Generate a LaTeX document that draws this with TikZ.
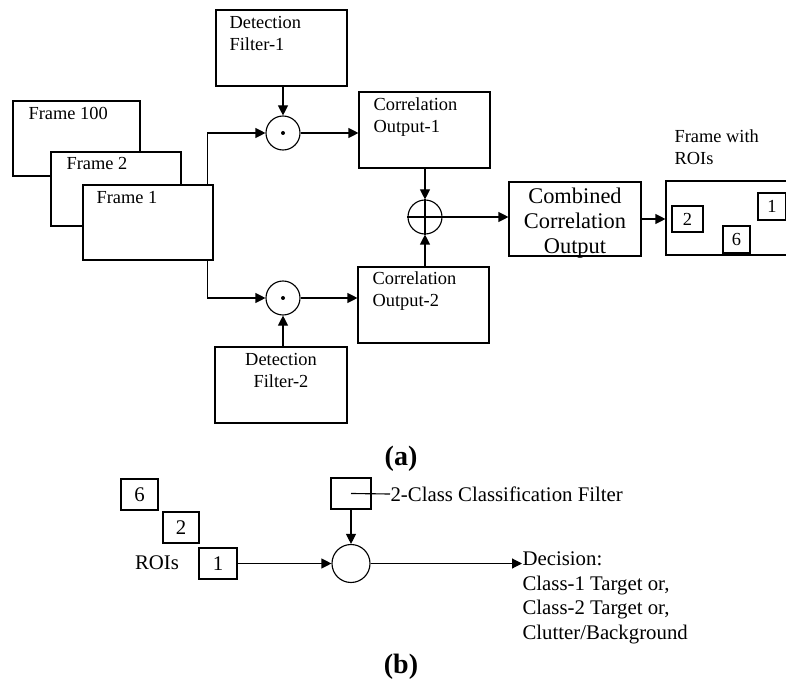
\documentclass[tikz,border=0pt]{standalone}
\usepackage{fontspec}
\setmainfont{Liberation Serif}
\usetikzlibrary{arrows.meta}

\begin{document}
\begin{tikzpicture}[x=0.75pt,y=-0.75pt,line width=0.85pt]
		\tikzset{box/.style = {draw, fill=white, inner sep=0pt},
			op/.style = {shape=circle, draw, inner sep=0pt, minimum size=25.5pt},
			txt/.style = {inner sep=0pt, font=\fontsize{13.8}{16.5}\selectfont},
			arr/.style = {-{Triangle[length=7.5pt,width=7.5pt]}}}

		\useasboundingbox (0,0) rectangle (786,688);

		% (a) detection
		\node[box, minimum width=95.25pt, minimum height=56.25pt] (F_3) at (76.5,138.5) {};
		\node[box, minimum width=97.5pt, minimum height=55.5pt] (F_2) at (116,189) {};
		\node[box, minimum width=97.5pt, minimum height=56.25pt] (F_1) at (148,222.5) {};
		\node[txt, anchor=west] at (28,113) {Frame 100};
		\node[txt, anchor=west] at (66,163) {Frame 2};
		\node[txt, anchor=west] at (96,198) {Frame 1};

		\node[box, minimum width=98.25pt, minimum height=57pt] (D_1) at (281.5,48) {};
		\node[txt, anchor=north west, align=left] at (229,15.5) {Detection\\Filter-1};
		\node[box, minimum width=99pt, minimum height=57pt] (D_2) at (281,385) {};
		\node[txt, anchor=north, align=center] at (281,352.5) {Detection\\Filter-2};

		\node[op] (M_1) at (283,133) {};
		\node[op] (M_2) at (283,298) {};
		\fill (M_1) circle (1.5pt);
		\fill (M_2) circle (1.5pt);

		\node[box, minimum width=98.25pt, minimum height=57pt] (C_1) at (424.5,130) {};
		\node[txt, anchor=north west, align=left] at (373,97.5) {Correlation\\Output-1};
		\node[box, minimum width=98.25pt, minimum height=57pt] (C_2) at (423.5,305) {};
		\node[txt, anchor=north west, align=left] at (372,271.5) {Correlation\\Output-2};

		\node[op] (P) at (425,217) {};
		\draw (P.north)--(P.south);
		\draw (P.west)--(P.east);

		\node[box, minimum width=99pt, minimum height=55.5pt] (CC) at (575,219) {};
		\node[inner sep=0pt, anchor=north, align=center, font=\fontsize{16.8}{18.75}\selectfont] at (575,187.5) {Combined\\Correlation\\Output};

		\node[box, minimum width=93pt, minimum height=55.5pt] (R) at (728,218) {};
		\node[txt, anchor=north west, align=left] at (674,129.5) {Frame with\\ROIs};
		\node[box, txt, minimum width=23.25pt, minimum height=19.5pt] (R_2) at (687.5,219) {2};
		\node[box, txt, minimum width=20.25pt, minimum height=20.25pt] (R_6) at (736.5,239.5) {6};
		\node[box, txt, minimum width=21pt, minimum height=20.25pt] (R_1) at (772,206.5) {1};

		\draw[arr] ([xshift=-4.5pt]F_1.north east) |- (M_1.west);
		\draw[arr] ([xshift=-4.5pt]F_1.south east) |- (M_2.west);
		\draw[arr] (M_1 |- D_1.south)--(M_1.north);
		\draw[arr] (M_2 |- D_2.north)--(M_2.south);
		\draw[arr] (M_1.east)--(C_1.west |- M_1);
		\draw[arr] (M_2.east)--(C_2.west |- M_2);
		\draw[arr] (P |- C_1.south)--(P.north);
		\draw[arr] (P |- C_2.north)--(P.south);
		\draw[arr] (P.east)--(CC.west |- P);
		\draw[arr] (CC.east)--(R.west |- CC.east);

		\node[inner sep=0pt, font=\fontsize{21}{24}\selectfont\bfseries] (cap_a) at (401,459) {(a)};

		% (b) classification
		\tikzset{btxt/.style = {inner sep=0pt, font=\fontsize{15.6}{18.5}\selectfont}}
		\node[box, btxt, minimum width=27.75pt, minimum height=23.25pt] (B_6) at (139.5,494.5) {6};
		\node[box, btxt, minimum width=27pt, minimum height=23.25pt] (B_2) at (181,527.5) {2};
		\node[box, btxt, minimum width=28.5pt, minimum height=23.25pt] (B_1) at (218,563.5) {1};
		\node[btxt] at (157,563) {ROIs};

		\node[box, minimum width=30pt, minimum height=23.25pt] (CF) at (351,493.5) {};
		\node[btxt, anchor=west] (CF_t) at (390,494) {2-Class Classification Filter};
		\draw (CF.center)--(CF_t.west);
		\node[op, minimum size=28.5pt] (K) at (351,563.5) {};
		\node[btxt, anchor=north west, align=left] (dec) at (522,551) {Decision:\\Class-1 Target or,\\Class-2 Target or,\\Clutter/Background};

		\draw[arr] (CF.south)--(K.north);
		\draw[arr] (B_1.east)--(K.west);
		\draw[arr] (K.east)--(K.east -| dec.west);

		\node[inner sep=0pt, font=\fontsize{21}{24}\selectfont\bfseries] (cap_b) at (401,667) {(b)};

	\end{tikzpicture}
\end{document}
